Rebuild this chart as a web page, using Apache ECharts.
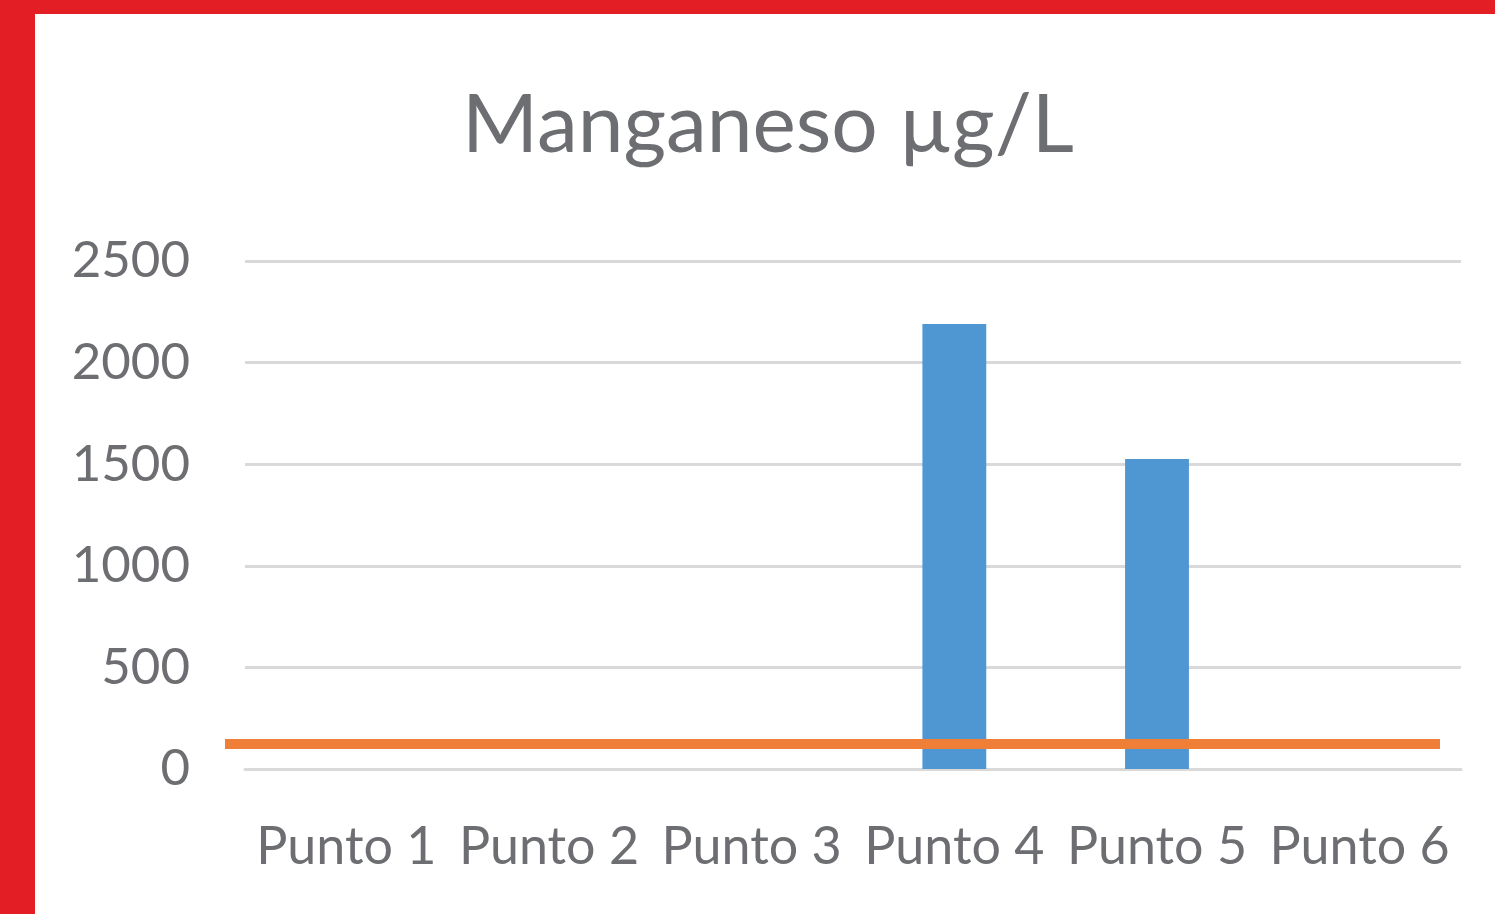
<!DOCTYPE html>
<html>
<head>
<meta charset="utf-8">
<script src="https://cdn.jsdelivr.net/npm/echarts@6/dist/echarts.min.js"></script>
<style>
  html, body { margin: 0; padding: 0; background: #fff; }
  #chart { width: 1495px; height: 914px; }
</style>
</head>
<body>
<div id="chart"></div>
<script>
const puntos = ['Punto 1', 'Punto 2', 'Punto 3', 'Punto 4', 'Punto 5', 'Punto 6']
const manganeso = [0, 0, 0, 2190, 1525, 0]
// limit line, drawn across the plot
const limite = [123, 123]
const yTicks = [0, 500, 1000, 1500, 2000, 2500]

const grey = '#6d6e71'
const chart = echarts.init(document.querySelector('#chart'))

const option = {
  animation: false,
  backgroundColor: '#fff',
  title: {
    text: 'Manganeso µg/L',
    left: 457,
    top: 80,
    textStyle: { fontFamily: 'Lato', fontSize: 82, fontWeight: 'normal', color: grey }
  },
  graphic: [
    { type: 'rect', left: 0, top: 0, shape: { width: 35, height: 914 }, style: { fill: '#e31e25' } },
    { type: 'rect', left: 0, top: 0, shape: { width: 1495, height: 14 }, style: { fill: '#e31e25' } }
  ],
  grid: [
    { left: 245, right: 34, top: 261, bottom: 145, containLabel: false, outerBoundsMode: 'none' },
    { left: 225, right: 55, top: 261, bottom: 145, containLabel: false, outerBoundsMode: 'none' }
  ],
  xAxis: [
    {
      type: 'category',
      data: puntos,
      gridIndex: 0,
      axisLine: { show: true, lineStyle: { color: '#d9d9d9', width: 3 } },
      axisTick: { show: false },
      axisLabel: { fontFamily: 'Lato', fontSize: 52, color: grey, margin: 52, interval: 0 }
    },
    {
      type: 'category',
      data: ['a', 'b'],
      gridIndex: 1,
      boundaryGap: false,
      show: false
    }
  ],
  yAxis: [
    {
      type: 'value',
      gridIndex: 0,
      min: yTicks[0],
      max: yTicks[yTicks.length - 1],
      interval: 500,
      axisLine: { show: false },
      axisTick: { show: false },
      splitLine: { lineStyle: { color: '#d9d9d9', width: 3 } },
      axisLabel: {
        fontFamily: 'Lato',
        fontSize: 51,
        color: grey,
        margin: 55,
        formatter: (v) => String(v)
      }
    },
    {
      type: 'value',
      gridIndex: 1,
      min: 0,
      max: 2500,
      show: false
    }
  ],
  series: [
    {
      type: 'bar',
      data: manganeso,
      xAxisIndex: 0,
      yAxisIndex: 0,
      barWidth: '31.5%',
      itemStyle: { color: '#4e97d3' }
    },
    {
      type: 'line',
      data: limite,
      xAxisIndex: 1,
      yAxisIndex: 1,
      showSymbol: false,
      lineStyle: { color: '#ef7f36', width: 10, cap: 'butt' }
    }
  ]
}

chart.setOption(option)
</script>
</body>
</html>
